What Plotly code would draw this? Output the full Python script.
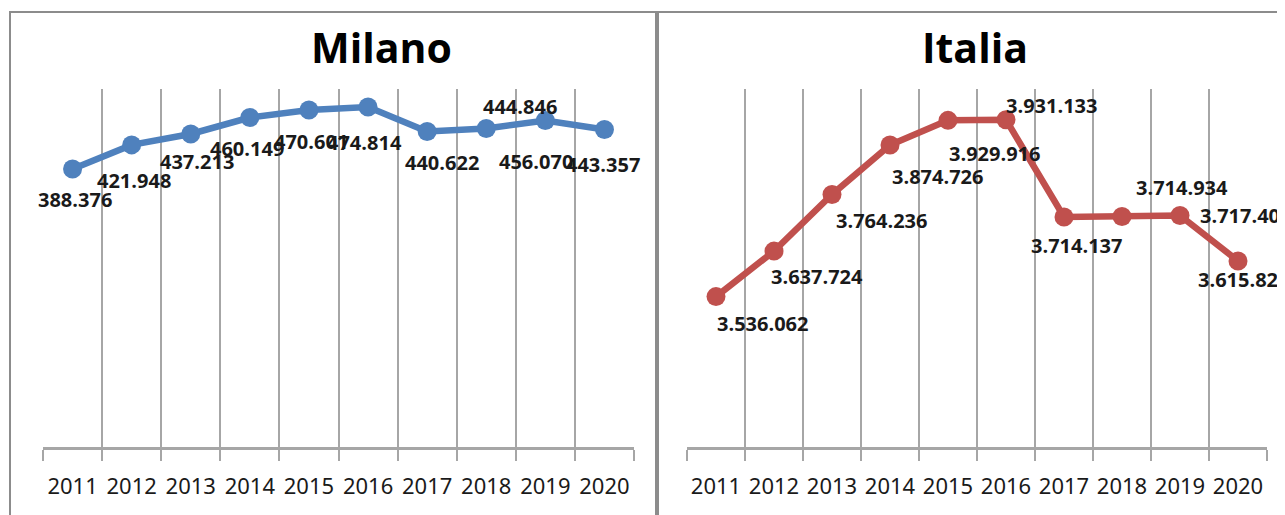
import plotly.graph_objects as go

years = ["2011", "2012", "2013", "2014", "2015", "2016", "2017", "2018", "2019", "2020"]
milano = [388376, 421948, 437213, 460149, 470601, 474814, 440622, 444846, 456070, 443357]
italia = [3536062, 3637724, 3764236, 3874726, 3929916, 3931133, 3714137, 3714934, 3717406, 3615826]

# label offsets in pixels (dx right, dy down) relative to each marker
milano_off = [(2, 31), (2, 36), (6, 28), (-3, 31), (2, 31), (-4, 35), (15, 31), (34, -22), (-9, 41), (-1, 35)]
italia_off = [(47, 27), (43, 25), (50, 26), (48, 31), (47, 33), (45, -14), (12, 29), (60, -29), (65, 0), (5, 19)]

# page has an 8px body margin: size the figure so it fits the 1285x515 window
OFF = 8
W, H = 1285 - OFF, 515 - OFF


def px(x):
    return (x - OFF) / W


def py(y):
    return 1 - (y - OFF) / H


BLUE = "#4F81BD"
RED = "#C0504D"
GRID = "#A6A6A6"
BORDER = "#8C8C8C"


def fmt(v):
    return f"{v:,}".replace(",", ".")


fig = go.Figure()
fig.add_trace(go.Scatter(x=years, y=milano, mode="lines+markers", xaxis="x", yaxis="y",
                         line=dict(color=BLUE, width=6.5), marker=dict(size=19, color=BLUE),
                         hoverinfo="skip", showlegend=False, cliponaxis=False))
fig.add_trace(go.Scatter(x=years, y=italia, mode="lines+markers", xaxis="x2", yaxis="y2",
                         line=dict(color=RED, width=6.5), marker=dict(size=19, color=RED),
                         hoverinfo="skip", showlegend=False, cliponaxis=False))

ydom = [py(447), py(89)]

xcommon = dict(type="category", tickson="boundaries", ticks="outside", ticklen=11,
               tickcolor=GRID, tickwidth=2, showgrid=True, gridcolor=GRID, gridwidth=2,
               showline=True, linecolor=GRID, linewidth=2.5, range=[-0.5, 9.5],
               tickfont=dict(family="Noto Sans", size=22, color="#1a1a1a"),
               tickangle=0, automargin=False,
               ticklabelstandoff=18, zeroline=False, fixedrange=True)
ycommon = dict(showgrid=False, showticklabels=False, zeroline=False, showline=False,
               ticks="", domain=ydom, fixedrange=True, automargin=False)

fig.update_layout(
    width=W, height=H,
    margin=dict(l=0, r=0, t=0, b=0, autoexpand=False),
    paper_bgcolor="white", plot_bgcolor="white",
    xaxis=dict(domain=[px(43), px(634)], anchor="y", **xcommon),
    yaxis=dict(range=[0, 500000], anchor="x", **ycommon),
    xaxis2=dict(domain=[px(687), px(1267)], anchor="y2", **xcommon),
    yaxis2=dict(range=[3200000, 4000000], anchor="x2", **ycommon),
)

lab_font = dict(family="Open Sans", size=20, color="#1a1a1a", weight="bold")
annotations = []
for i, (v, (dx, dy)) in enumerate(zip(milano, milano_off)):
    annotations.append(dict(x=i, y=v, xref="x", yref="y", text=fmt(v), showarrow=False,
                            xshift=dx, yshift=-dy, font=lab_font))
for i, (v, (dx, dy)) in enumerate(zip(italia, italia_off)):
    annotations.append(dict(x=i, y=v, xref="x2", yref="y2", text=fmt(v), showarrow=False,
                            xshift=dx, yshift=-dy, font=lab_font))

title_font = dict(family="Open Sans", size=41, color="black", weight="bold")
annotations.append(dict(x=px(381), y=py(47), xref="paper", yref="paper", text="Milano",
                        showarrow=False, xanchor="center", yanchor="middle", font=title_font))
annotations.append(dict(x=px(975), y=py(47), xref="paper", yref="paper", text="Italia",
                        showarrow=False, xanchor="center", yanchor="middle", font=title_font))
fig.update_layout(annotations=annotations)

fig.update_layout(shapes=[
    dict(type="rect", xref="paper", yref="paper", x0=px(10), x1=px(656), y0=-0.05, y1=py(12),
         line=dict(color=BORDER, width=2), layer="below"),
    dict(type="rect", xref="paper", yref="paper", x0=px(658), x1=1.05, y0=-0.05, y1=py(12),
         line=dict(color=BORDER, width=2), layer="below"),
])

fig.write_html("out.html", config={"displayModeBar": False})
